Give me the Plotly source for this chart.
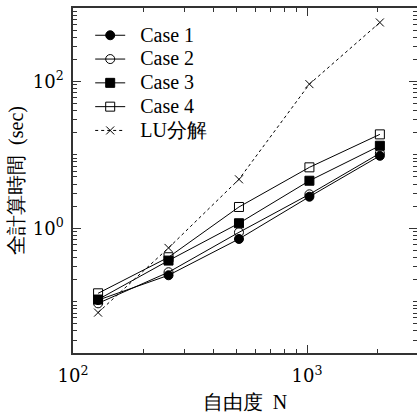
import plotly.graph_objects as go

N = [128, 256, 512, 1024, 2048]
case1 = [0.105, 0.229, 0.715, 2.69, 9.7]
case2 = [0.095, 0.252, 0.88, 2.90, 10.5]
case3 = [0.107, 0.363, 1.17, 4.44, 13.3]
case4 = [0.13, 0.403, 1.95, 6.76, 19.0]
lu = [0.071, 0.54, 4.64, 91.9, 635]

names = ["Case 1", "Case 2", "Case 3", "Case 4", "LU分解"]
series = [case1, case2, case3, case4, lu]
symbols = ["circle", "circle-open", "square", "square-open", "x-thin-open"]
dashes = ["solid", "solid", "solid", "solid", "dot"]

x_major = [100, 1000]
x_major_text = ["10<sup>2</sup>", "10<sup>3</sup>"]
x_minor = [200, 300, 400, 500, 600, 700, 800, 900, 2000]
y_major = [1, 100]
y_major_text = ["10<sup>0</sup>", "10<sup>2</sup>"]
y_minor = [0.03, 0.04, 0.05, 0.06, 0.07, 0.08, 0.09,
           0.1, 0.2, 0.3, 0.4, 0.5, 0.6, 0.7, 0.8, 0.9,
           2, 3, 4, 5, 6, 7, 8, 9,
           10, 20, 30, 40, 50, 60, 70, 80, 90,
           200, 300, 400, 500, 600, 700, 800, 900]

FONT_TICK = "DejaVu Serif"
FONT_LEG = "serif"
FONT_TITLE = "Times New Roman"
fig = go.Figure()
for name, ys, sym, dash in zip(names, series, symbols, dashes):
    fig.add_trace(go.Scatter(
        x=N, y=ys,
        name='<span style="font-size:20px">\u00a0\u00a0' + name + '</span>',
        mode="lines+markers",
        line=dict(color="black", width=1, dash=dash),
        marker=dict(symbol=sym, size=9 if sym != "x-thin-open" else 8,
                    color="black", line=dict(color="black", width=1)),
    ))

axis_common = dict(
    showgrid=False, zeroline=False, ticks="inside", ticklen=8,
    tickcolor="#333", tickwidth=1,
    tickfont=dict(family=FONT_TICK, size=18, color="black"),
)
fig.update_layout(
    width=417, height=416,
    margin=dict(l=73, r=0, t=8, b=63),
    plot_bgcolor="white", paper_bgcolor="white",
    font=dict(color="black"),
    showlegend=True,
    legend=dict(x=0.05, y=0.97, xanchor="left", yanchor="top",
                bgcolor="rgba(0,0,0,0)", font=dict(family=FONT_LEG, size=16),
                tracegroupgap=0),
    xaxis=dict(type="log", range=[2, 3.470], tickmode="array",
               tickvals=x_major, ticktext=x_major_text,
               showline=True, linecolor="#333", linewidth=1.5, mirror="ticks",
               minor=dict(tickmode="array", tickvals=x_minor, ticks="inside",
                          ticklen=4, tickcolor="#333", showgrid=False),
               ticklabelstandoff=6,
               title=dict(text="自由度  N", font=dict(family=FONT_TITLE, size=20),
                          standoff=10),
               **axis_common),
    yaxis=dict(type="log", range=[-1.699, 3.0], tickmode="array",
               tickvals=y_major, ticktext=y_major_text,
               showline=True, linecolor="#333", linewidth=1.5,
               minor=dict(tickmode="array", tickvals=y_minor, ticks="inside",
                          ticklen=4, tickcolor="#333", showgrid=False),
               ticklabelstandoff=4,
               title=dict(text="全計算時間  (sec)", font=dict(family=FONT_TITLE, size=20),
                          standoff=4),
               **axis_common),
    yaxis2=dict(type="log", range=[-1.699, 3.0], overlaying="y", side="right",
                showline=False, showticklabels=False, tickmode="array",
                tickvals=y_major,
                minor=dict(tickmode="array", tickvals=y_minor, ticks="inside",
                           ticklen=4, tickcolor="#333", showgrid=False),
                showgrid=False, zeroline=False, ticks="inside", ticklen=8,
                tickcolor="#333"),
)
fig.add_trace(go.Scatter(x=[], y=[], yaxis="y2", showlegend=False,
                         hoverinfo="skip"))
fig.write_html("out.html", config={"displayModeBar": False},
               post_script="document.body.style.margin='0';document.body.style.overflow='hidden';")
